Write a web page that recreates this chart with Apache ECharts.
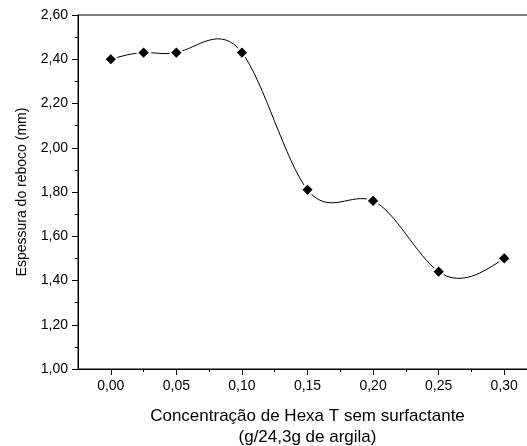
<!DOCTYPE html>
<html>
<head>
<meta charset="utf-8">
<script src="https://cdn.jsdelivr.net/npm/echarts@6/dist/echarts.min.js"></script>
<style>
html,body{margin:0;padding:0;background:#fff;}
#chart{width:527px;height:446px;}
</style>
</head>
<body>
<div id="chart"></div>
<script>
var concentration = [0.00, 0.025, 0.05, 0.10, 0.15, 0.20, 0.25, 0.30];
var thickness = [2.40, 2.43, 2.43, 2.43, 1.81, 1.76, 1.44, 1.50];
var xMajorTicks = [0.00, 0.05, 0.10, 0.15, 0.20, 0.25, 0.30];
var xMinorTicks = [0.025, 0.075, 0.125, 0.175, 0.225, 0.275];
var xTitle = 'Concentração de Hexa T sem surfactante\n(g/24,3g de argila)';
var yTitle = 'Espessura do reboco (mm)';

var fmt = function (v) { return v.toFixed(2).replace('.', ','); };
var font = 'Liberation Sans, Arial, sans-serif';

// Natural cubic spline slopes at the data points (used only to shape the
// connecting curve, like the spline connector of the original plot).
function splineSlopes(xs, ys) {
  var n = xs.length, h = [], i;
  for (i = 0; i < n - 1; i++) h.push(xs[i + 1] - xs[i]);
  var a = [], b = [], c = [], d = [];
  for (i = 0; i < n; i++) {
    if (i === 0 || i === n - 1) { a.push(0); b.push(1); c.push(0); d.push(0); }
    else {
      a.push(h[i - 1]); b.push(2 * (h[i - 1] + h[i])); c.push(h[i]);
      d.push(6 * ((ys[i + 1] - ys[i]) / h[i] - (ys[i] - ys[i - 1]) / h[i - 1]));
    }
  }
  for (i = 1; i < n; i++) {
    var w = a[i] / b[i - 1];
    b[i] -= w * c[i - 1]; d[i] -= w * d[i - 1];
  }
  var M = new Array(n);
  M[n - 1] = d[n - 1] / b[n - 1];
  for (i = n - 2; i >= 0; i--) M[i] = (d[i] - c[i] * M[i + 1]) / b[i];
  var m = [];
  for (i = 0; i < n - 1; i++) m.push((ys[i + 1] - ys[i]) / h[i] - h[i] * (2 * M[i] + M[i + 1]) / 6);
  var k = n - 2;
  m.push((ys[k + 1] - ys[k]) / h[k] + h[k] * (M[k] + 2 * M[k + 1]) / 6);
  return m;
}

var chart = echarts.init(document.getElementById('chart'));
chart.setOption({
  animation: false,
  backgroundColor: '#fff',
  grid: {
    left: 78, right: -10, top: 15, bottom: 77,
    show: true, borderColor: '#000', borderWidth: 1,
    containLabel: false, outerBoundsMode: 'none'
  },
  xAxis: [{
    type: 'value', min: -0.025, max: 0.325,
    splitLine: { show: false },
    axisLine: { show: true, onZero: false, lineStyle: { color: '#000', width: 1 } },
    axisTick: { show: true, customValues: xMajorTicks, length: 6, lineStyle: { color: '#000' } },
    axisLabel: { customValues: xMajorTicks, formatter: fmt, color: '#000', fontSize: 14, fontFamily: font, margin: 10 },
    name: xTitle, nameLocation: 'middle', nameGap: 37,
    nameTextStyle: { color: '#000', fontSize: 17, fontFamily: font, lineHeight: 21 }
  }, {
    type: 'value', min: -0.025, max: 0.325, position: 'bottom',
    splitLine: { show: false },
    axisLine: { show: false, onZero: false },
    axisTick: { show: true, customValues: xMinorTicks, length: 3, lineStyle: { color: '#000' } },
    axisLabel: { show: false }
  }],
  yAxis: {
    type: 'value', min: 1.0, max: 2.6, interval: 0.2,
    splitLine: { show: false },
    axisLine: { show: true, onZero: false, lineStyle: { color: '#000', width: 1 } },
    axisTick: { show: true, length: 6, lineStyle: { color: '#000' } },
    minorTick: { show: true, splitNumber: 2, length: 3, lineStyle: { color: '#000' } },
    axisLabel: { formatter: fmt, color: '#000', fontSize: 14, fontFamily: font, margin: 10 },
    name: yTitle, nameLocation: 'middle', nameGap: 49,
    nameTextStyle: { color: '#000', fontSize: 14, fontFamily: font }
  },
  series: [{
    type: 'custom',
    xAxisIndex: 0,
    data: concentration.map(function (x, i) { return [x, thickness[i]]; }),
    renderItem: function (params, api) {
      if (params.dataIndex !== 0) return null;
      var xs = concentration, ys = thickness;
      var m = splineSlopes(xs, ys);
      var children = [];
      for (var i = 0; i < xs.length - 1; i++) {
        var hh = xs[i + 1] - xs[i];
        var p0 = api.coord([xs[i], ys[i]]);
        var c1 = api.coord([xs[i] + hh / 3, ys[i] + m[i] * hh / 3]);
        var c2 = api.coord([xs[i + 1] - hh / 3, ys[i + 1] - m[i + 1] * hh / 3]);
        var p1 = api.coord([xs[i + 1], ys[i + 1]]);
        children.push({
          type: 'bezierCurve',
          shape: { x1: p0[0], y1: p0[1], cpx1: c1[0], cpy1: c1[1], cpx2: c2[0], cpy2: c2[1], x2: p1[0], y2: p1[1] },
          style: { stroke: '#000', lineWidth: 1, fill: null }
        });
      }
      return { type: 'group', children: children };
    },
    z: 2
  }, {
    type: 'scatter',
    xAxisIndex: 0,
    data: concentration.map(function (x, i) { return [x, thickness[i]]; }),
    symbol: 'diamond', symbolSize: 13,
    itemStyle: { color: '#000', borderColor: '#fff', borderWidth: 2, opacity: 1 },
    z: 3
  }]
});
</script>
</body>
</html>
